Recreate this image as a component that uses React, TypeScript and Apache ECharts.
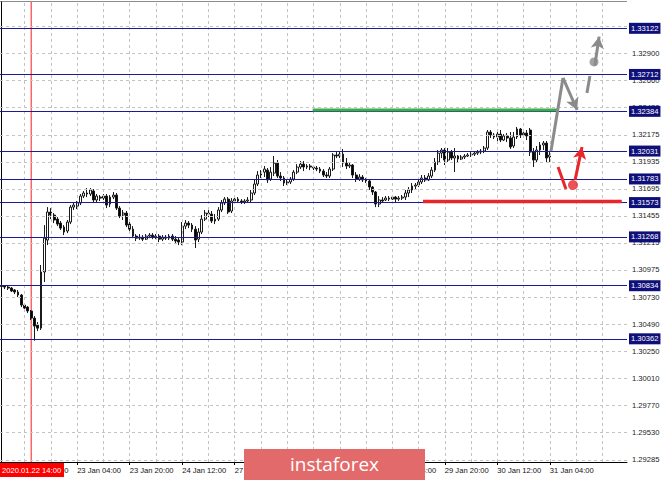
import React, { useEffect, useRef } from "react";
import * as echarts from "echarts";

// ---------- data ----------
const TOTAL_SLOTS = 191; // hourly slots shown on the time axis (incl. empty future space)
const START_UTC = Date.UTC(2020, 0, 22, 5);
const MONTHS = ["Jan", "Feb", "Mar", "Apr", "May", "Jun", "Jul", "Aug", "Sep", "Oct", "Nov", "Dec"];

function buildCategories(): string[] {
  const out: string[] = [];
  let t = START_UTC;
  while (out.length < TOTAL_SLOTS) {
    const d = new Date(t);
    const wd = d.getUTCDay();
    if (wd !== 0 && wd !== 6) {
      const hh = String(d.getUTCHours()).padStart(2, "0");
      out.push(`${d.getUTCDate()} ${MONTHS[d.getUTCMonth()]} ${hh}:00`);
    }
    t += 3600 * 1000;
  }
  return out;
}
const CATEGORIES = buildCategories();

const X_TICK_LABELS = [
  "22 Jan 12:00", "23 Jan 04:00", "23 Jan 20:00", "24 Jan 12:00", "27 Jan 04:00",
  "27 Jan 20:00", "28 Jan 12:00", "29 Jan 04:00", "29 Jan 20:00", "30 Jan 12:00", "31 Jan 04:00",
];
const CURSOR_TIME = "22 Jan 14:00";
const CURSOR_LABEL = "2020.01.22 14:00";

// [open, close, low, high]
const CANDLES: number[][] = [
  [1.30831, 1.30828, 1.30813, 1.30849], [1.30831, 1.30822, 1.30804, 1.3084], [1.30822, 1.30813, 1.30796, 1.30831],
  [1.30813, 1.30787, 1.30778, 1.30822], [1.30796, 1.30778, 1.3076, 1.30804], [1.30778, 1.30751, 1.30733, 1.30796],
  [1.30751, 1.30662, 1.30644, 1.3076], [1.30662, 1.30635, 1.30618, 1.3068], [1.30644, 1.30609, 1.30591, 1.30653],
  [1.30609, 1.30546, 1.30529, 1.30618], [1.30546, 1.30475, 1.30345, 1.30564], [1.30484, 1.30457, 1.30431, 1.30511],
  [1.30457, 1.30956, 1.3044, 1.31018], [1.30956, 1.31257, 1.30867, 1.31373], [1.3124, 1.31489, 1.31195, 1.31533],
  [1.31489, 1.31462, 1.31426, 1.31524], [1.31462, 1.31418, 1.31391, 1.3148], [1.31426, 1.31382, 1.31364, 1.31444],
  [1.31391, 1.31346, 1.31329, 1.31409], [1.31355, 1.31311, 1.31284, 1.31373], [1.3132, 1.314, 1.31302, 1.31418],
  [1.314, 1.31533, 1.31382, 1.31551], [1.31533, 1.31551, 1.31507, 1.31578], [1.31542, 1.31569, 1.31515, 1.31587],
  [1.31569, 1.31631, 1.31551, 1.31649], [1.31631, 1.31658, 1.31613, 1.31676], [1.31658, 1.31649, 1.31622, 1.31702],
  [1.31649, 1.31685, 1.31631, 1.31702], [1.31676, 1.31596, 1.31569, 1.31693], [1.31596, 1.31631, 1.31569, 1.31649],
  [1.31622, 1.31613, 1.31587, 1.3164], [1.31613, 1.31631, 1.31596, 1.31649], [1.31631, 1.31551, 1.31524, 1.31649],
  [1.3156, 1.31622, 1.31533, 1.3164], [1.31622, 1.3164, 1.31604, 1.31667], [1.3164, 1.31524, 1.31507, 1.31658],
  [1.31524, 1.31453, 1.31435, 1.31542], [1.31462, 1.3148, 1.31418, 1.31507], [1.3148, 1.31373, 1.31355, 1.31498],
  [1.31382, 1.31337, 1.3132, 1.314], [1.31337, 1.31275, 1.31257, 1.31364], [1.31275, 1.31257, 1.31231, 1.31293],
  [1.31257, 1.31266, 1.3124, 1.31293], [1.31266, 1.31248, 1.31231, 1.31284], [1.31248, 1.31275, 1.3124, 1.31293],
  [1.31275, 1.31284, 1.31257, 1.31302], [1.31284, 1.31266, 1.31248, 1.31302], [1.31266, 1.31275, 1.31248, 1.31293],
  [1.31275, 1.31248, 1.31222, 1.31293], [1.31248, 1.31266, 1.31231, 1.31284], [1.31266, 1.31257, 1.3124, 1.31284],
  [1.31257, 1.31275, 1.3124, 1.31293], [1.31275, 1.31248, 1.31231, 1.31293], [1.31248, 1.31231, 1.31204, 1.31275],
  [1.3124, 1.31222, 1.31195, 1.31266], [1.31222, 1.31364, 1.31195, 1.314], [1.31364, 1.31391, 1.31337, 1.31418],
  [1.31391, 1.31373, 1.31346, 1.31409], [1.31373, 1.31337, 1.31311, 1.31391], [1.31337, 1.3124, 1.31169, 1.31364],
  [1.31248, 1.31311, 1.31222, 1.31346], [1.31311, 1.31426, 1.31293, 1.31462], [1.31426, 1.3148, 1.31409, 1.31507],
  [1.3148, 1.31471, 1.31444, 1.31507], [1.31471, 1.31409, 1.31391, 1.31498], [1.31409, 1.31426, 1.31382, 1.31471],
  [1.31426, 1.31507, 1.31409, 1.31533], [1.31507, 1.31569, 1.31489, 1.31596], [1.31569, 1.31604, 1.31551, 1.31622],
  [1.31604, 1.31489, 1.31471, 1.31622], [1.31498, 1.31587, 1.3148, 1.31613], [1.31587, 1.31604, 1.31569, 1.31631],
  [1.31604, 1.31587, 1.31569, 1.31622], [1.31587, 1.31578, 1.3156, 1.31604], [1.31578, 1.31587, 1.3156, 1.31604],
  [1.31587, 1.31596, 1.31569, 1.31622], [1.31596, 1.31658, 1.31578, 1.31685], [1.31658, 1.31738, 1.3164, 1.31774],
  [1.31738, 1.31818, 1.3172, 1.31853], [1.31818, 1.31844, 1.31791, 1.31862], [1.31844, 1.31871, 1.318, 1.31898],
  [1.31862, 1.31774, 1.31747, 1.3188], [1.31782, 1.31844, 1.31765, 1.31889], [1.31835, 1.31924, 1.31809, 1.31987],
  [1.31924, 1.31809, 1.31791, 1.31951], [1.31809, 1.31791, 1.31765, 1.31844], [1.31791, 1.31747, 1.3172, 1.31809],
  [1.31747, 1.31756, 1.31729, 1.31782], [1.31756, 1.31782, 1.31738, 1.318], [1.31782, 1.31844, 1.31765, 1.31862],
  [1.31844, 1.31889, 1.31826, 1.31915], [1.31889, 1.31915, 1.31871, 1.31942], [1.31915, 1.31889, 1.31853, 1.31942],
  [1.31889, 1.31898, 1.31871, 1.31915], [1.31898, 1.31889, 1.31862, 1.31915], [1.31889, 1.3188, 1.31862, 1.31907],
  [1.3188, 1.31871, 1.31853, 1.31898], [1.31871, 1.31853, 1.31835, 1.31889], [1.31853, 1.31818, 1.318, 1.31871],
  [1.31818, 1.31809, 1.31791, 1.31844], [1.31809, 1.31871, 1.31791, 1.31889], [1.31871, 1.31996, 1.31853, 1.32013],
  [1.31996, 1.31987, 1.31969, 1.32022], [1.31987, 1.32004, 1.31969, 1.32031], [1.32004, 1.31924, 1.31889, 1.32049],
  [1.31924, 1.31898, 1.31871, 1.31969], [1.31898, 1.31907, 1.3188, 1.31933], [1.31907, 1.31818, 1.31791, 1.31915],
  [1.31818, 1.31782, 1.31756, 1.31844], [1.31782, 1.318, 1.31765, 1.31826], [1.318, 1.31774, 1.31756, 1.31818],
  [1.31774, 1.31765, 1.31747, 1.31791], [1.31765, 1.31711, 1.31685, 1.31782], [1.31711, 1.31667, 1.3164, 1.3172],
  [1.31667, 1.3156, 1.31533, 1.31676], [1.3156, 1.31596, 1.31533, 1.31631], [1.31596, 1.31587, 1.31578, 1.31622],
  [1.31596, 1.31613, 1.31587, 1.31631], [1.31613, 1.31604, 1.31587, 1.31631], [1.31604, 1.31622, 1.31596, 1.31631],
  [1.31622, 1.31604, 1.31578, 1.31631], [1.31604, 1.31613, 1.31587, 1.31631], [1.31613, 1.31622, 1.31596, 1.3164],
  [1.31622, 1.31658, 1.31596, 1.31685], [1.31658, 1.31685, 1.31622, 1.31711], [1.31685, 1.3172, 1.31658, 1.31747],
  [1.3172, 1.31729, 1.31685, 1.31747], [1.31729, 1.31756, 1.31711, 1.31774], [1.31756, 1.31791, 1.31738, 1.31818],
  [1.31791, 1.31774, 1.31756, 1.31818], [1.31774, 1.31809, 1.31765, 1.31835], [1.31809, 1.31862, 1.31791, 1.31889],
  [1.31862, 1.31933, 1.31844, 1.31969], [1.31933, 1.32013, 1.31907, 1.3204], [1.32013, 1.3204, 1.31969, 1.32058],
  [1.3204, 1.31951, 1.31907, 1.32058], [1.31951, 1.32022, 1.31933, 1.32058], [1.32022, 1.31969, 1.31951, 1.3204],
  [1.31969, 1.31987, 1.31844, 1.32058], [1.31987, 1.3196, 1.31933, 1.31996], [1.3196, 1.31978, 1.31951, 1.31996],
  [1.31978, 1.31987, 1.3196, 1.32004], [1.31987, 1.31996, 1.31978, 1.32013], [1.31996, 1.32004, 1.31978, 1.32022],
  [1.32004, 1.32013, 1.31987, 1.32031], [1.32013, 1.32022, 1.31996, 1.3204], [1.32022, 1.32031, 1.32004, 1.32049],
  [1.32031, 1.32058, 1.32013, 1.32076], [1.32058, 1.322, 1.3204, 1.32218], [1.322, 1.32174, 1.32147, 1.32218],
  [1.32174, 1.32156, 1.32138, 1.32191], [1.32156, 1.32182, 1.3212, 1.322], [1.32182, 1.32129, 1.32111, 1.32218],
  [1.32129, 1.32165, 1.3212, 1.32182], [1.32165, 1.32147, 1.32111, 1.32191], [1.32147, 1.32067, 1.32049, 1.322],
  [1.32076, 1.32156, 1.32058, 1.322], [1.32156, 1.32227, 1.32138, 1.32245], [1.32227, 1.32174, 1.32147, 1.32236],
  [1.32174, 1.32191, 1.32147, 1.32209], [1.32191, 1.32165, 1.32129, 1.32218], [1.32218, 1.32022, 1.31987, 1.32236],
  [1.32022, 1.31951, 1.31889, 1.32058], [1.31951, 1.3204, 1.31933, 1.32076], [1.3204, 1.32085, 1.31996, 1.32111],
  [1.32085, 1.32102, 1.3204, 1.3212], [1.32102, 1.31969, 1.31933, 1.3212], [1.31978, 1.31996, 1.31933, 1.32022],
];

const Y_TICKS = [
  1.29285, 1.2953, 1.2977, 1.3001, 1.3025, 1.3049, 1.3073, 1.30975, 1.31215,
  1.31455, 1.31695, 1.31935, 1.32175, 1.3242, 1.3266, 1.329, 1.3314,
];
const LEVELS = [1.33122, 1.32712, 1.32384, 1.32031, 1.31783, 1.31573, 1.31268, 1.30834, 1.30362];
const V_GRID_FIRST = 7;
const V_GRID_STEP = 8;

// annotation drawings, in (slot index, price)
const GREEN_LINE = [[94.75, 1.32396], [169.5, 1.32396]];
const RED_LINE = [[128.35, 1.31583], [188.9, 1.31583]];
const GRAY_UP = [[167.35, 1.32031], [171.0, 1.32681]];
const GRAY_ARROW_DOWN = [[171.0, 1.32681], [175.3, 1.32396]];
const GRAY_DASH = [[178.3, 1.32547], [179.2, 1.32698]];
const GRAY_DOT = [180.45, 1.32823];
const GRAY_ARROW_UP = [[180.7, 1.3279], [182.0, 1.33048]];
const RED_STROKE = [[169.5, 1.31889], [171.9, 1.31693]];
const RED_DOT = [174.05, 1.31729];
const RED_ARROW_UP = [[174.7, 1.31775], [176.8, 1.32067]];

const Y_MIN = 1.29267;
const Y_MAX = 1.33356;

const FONT = "Liberation Sans";
const GRAY = "#8b8b8b";
const RED = "#e8262c";
const NAVY = "#1c1c92";

export default function App() {
  const ref = useRef<HTMLDivElement>(null);
  useEffect(() => {
    if (!ref.current) return;
    const chart = echarts.init(ref.current, undefined, { renderer: "svg" });
    const vGrid: any[] = [];
    for (let i = V_GRID_FIRST; i < TOTAL_SLOTS; i += V_GRID_STEP) vGrid.push({ xAxis: i, label: { show: false } });
    const cursorIdx = CATEGORIES.indexOf(CURSOR_TIME);
    const seg = (pts: number[][]) => [{ coord: pts[0] }, { coord: pts[1] }];

    const option: any = {
      animation: false,
      backgroundColor: "#ffffff",
      grid: { left: 0, right: 38, top: 2, bottom: 18, containLabel: false },
      xAxis: [
        {
          type: "category",
          data: CATEGORIES,
          boundaryGap: true,
          axisLine: { show: true, lineStyle: { color: "#000", width: 1 } },
          axisTick: {
            show: true,
            alignWithLabel: true,
            length: 3,
            interval: (_i: number, v: string) => X_TICK_LABELS.includes(v),
            lineStyle: { color: "#000" },
          },
          axisLabel: {
            interval: (_i: number, v: string) => X_TICK_LABELS.includes(v),
            align: "left",
            margin: 4,
            fontSize: 7.6,
            fontFamily: FONT,
            color: "#111",
          },
          splitLine: { show: false },
        },
        { type: "value", min: -0.5, max: TOTAL_SLOTS - 0.5, show: false },
      ],
      yAxis: {
        type: "value",
        position: "right",
        min: Y_MIN,
        max: Y_MAX,
        axisLine: { show: true, lineStyle: { color: "#000" } },
        axisTick: { show: false },
        axisLabel: { show: false },
        splitLine: { show: false },
      },
      graphic: [
        { type: "line", shape: { x1: 0, y1: 1.5, x2: 627, y2: 1.5 }, style: { stroke: "#8c8c8c", lineWidth: 1 } },
        { type: "rect", shape: { x: 0, y: 463, width: 64, height: 14 }, style: { fill: "#ff0000" }, z: 100 },
        {
          type: "text", x: 2, y: 470, z: 101,
          style: { text: CURSOR_LABEL, fill: "#ffffff", fontSize: 7.6, fontFamily: FONT, verticalAlign: "middle" },
        },
        { type: "rect", shape: { x: 244, y: 449, width: 181, height: 31 }, style: { fill: "#e36a6a" }, z: 100 },
        {
          type: "text", x: 334.5, y: 464, z: 101,
          style: { text: "instaforex", fill: "#ffffff", fontSize: 19, fontFamily: "Open Sans", align: "center", verticalAlign: "middle" },
        },
      ],
      series: [
        {
          name: "grid",
          type: "line",
          xAxisIndex: 1,
          data: [],
          z: 1,
          silent: true,
          markLine: {
            silent: true,
            precision: 5,
            symbol: ["none", "none"],
            lineStyle: { color: "#c3c3c3", type: [3, 3], width: 1 },
            label: {
              show: true,
              position: "end",
              distance: 5,
              formatter: (p: any) => Number(p.value).toFixed(5),
              fontSize: 7.6,
              fontFamily: FONT,
              color: "#222",
            },
            emphasis: { disabled: true },
            data: [...vGrid, ...Y_TICKS.map((v) => ({ yAxis: v }))],
          },
        },
        {
          name: "cursor",
          type: "line",
          xAxisIndex: 1,
          data: [[cursorIdx, Y_MIN], [cursorIdx, Y_MAX]],
          symbol: "none",
          z: 2,
          silent: true,
          lineStyle: { color: "#ff1a1a", width: 1 },
        },
        {
          name: "price",
          type: "candlestick",
          data: CANDLES,
          z: 3,
          barWidth: "72%",
          itemStyle: {
            color: "#ffffff",
            color0: "#000000",
            borderColor: "#1a1a1a",
            borderColor0: "#1a1a1a",
            borderWidth: 1,
          },
        },
        {
          name: "levels",
          type: "line",
          xAxisIndex: 1,
          data: [],
          z: 5,
          silent: true,
          markLine: {
            silent: true,
            precision: 5,
            symbol: ["none", "none"],
            lineStyle: { color: NAVY, type: "solid", width: 1 },
            label: {
              show: true,
              position: "end",
              distance: 2,
              formatter: (p: any) => Number(p.value).toFixed(5),
              fontSize: 7.6,
              fontFamily: FONT,
              color: "#ffffff",
              backgroundColor: "#0f0f7a",
              padding: [2, 2, 1, 2],
            },
            emphasis: { disabled: true },
            data: LEVELS.map((v) => ({ yAxis: v })),
          },
        },
        {
          name: "green", type: "line", xAxisIndex: 1, data: GREEN_LINE, symbol: "none", z: 6, silent: true,
          lineStyle: { color: "#3cad48", width: 3 },
        },
        {
          name: "redline", type: "line", xAxisIndex: 1, data: RED_LINE, symbol: "none", z: 6, silent: true,
          lineStyle: { color: RED, width: 3.5 },
        },
        {
          name: "grayUp", type: "line", xAxisIndex: 1, data: GRAY_UP, symbol: "none", z: 7, silent: true,
          lineStyle: { color: GRAY, width: 3 },
        },
        {
          name: "grayDash", type: "line", xAxisIndex: 1, data: GRAY_DASH, symbol: "none", z: 7, silent: true,
          lineStyle: { color: GRAY, width: 3 },
        },
        {
          name: "redStroke", type: "line", xAxisIndex: 1, data: RED_STROKE, symbol: "none", z: 7, silent: true,
          lineStyle: { color: RED, width: 3 },
        },
        {
          name: "grayArrows", type: "line", xAxisIndex: 1, data: [], z: 7, silent: true,
          markLine: {
            silent: true,
            precision: 5,
            symbol: ["none", "arrow"],
            symbolSize: [10, 12],
            label: { show: false },
            emphasis: { disabled: true },
            lineStyle: { color: GRAY, width: 3, type: "solid" },
            data: [seg(GRAY_ARROW_DOWN), seg(GRAY_ARROW_UP)],
          },
        },
        {
          name: "redArrows", type: "line", xAxisIndex: 1, data: [], z: 7, silent: true,
          markLine: {
            silent: true,
            precision: 5,
            symbol: ["none", "arrow"],
            symbolSize: [10, 12],
            label: { show: false },
            emphasis: { disabled: true },
            lineStyle: { color: RED, width: 3, type: "solid" },
            data: [seg(RED_ARROW_UP)],
          },
        },
        {
          name: "grayDot", type: "scatter", xAxisIndex: 1, data: [GRAY_DOT], symbolSize: 9, z: 8, silent: true,
          itemStyle: { color: GRAY },
        },
        {
          name: "redDot", type: "scatter", xAxisIndex: 1, data: [RED_DOT], symbolSize: 10, z: 8, silent: true,
          itemStyle: { color: RED },
        },
      ],
    };
    chart.setOption(option);
    return () => chart.dispose();
  }, []);
  return (
    <div
      ref={ref}
      style={{ position: "fixed", left: 0, top: 0, width: 665, height: 480, background: "#fff" }}
    />
  );
}
